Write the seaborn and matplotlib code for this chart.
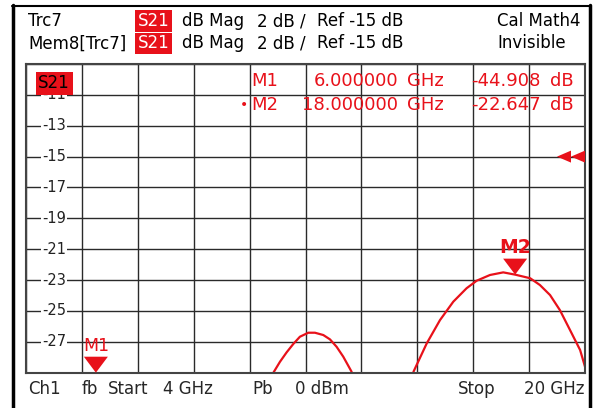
import numpy as np
import pandas as pd
import matplotlib
matplotlib.use("Agg")
import matplotlib.pyplot as plt
import seaborn as sns
from matplotlib.patches import Rectangle, Polygon
from matplotlib.lines import Line2D

# ---- data ----
lobe1_freq = [11.08, 11.27, 11.46, 11.65, 11.84, 12.08, 12.27, 12.51, 12.70, 12.89, 13.08, 13.32]
lobe1_db = [-29.0, -28.29, -27.68, -27.14, -26.67, -26.41, -26.41, -26.56, -26.84, -27.32, -27.96, -28.94]
lobe2_freq = [15.09, 15.47, 15.85, 16.23, 16.61, 16.90, 17.28, 17.66, 18.00, 18.43, 18.71,
              19.00, 19.28, 19.57, 19.86, 20.00]
lobe2_db = [-28.94, -27.10, -25.59, -24.40, -23.53, -23.04, -22.67, -22.50, -22.647, -22.88, -23.32,
            -23.97, -24.94, -26.23, -27.53, -28.61]
ytick_values = [-11, -13, -15, -17, -19, -21, -23, -25, -27]
marker_names = ["M1", "M2"]
marker_freq = [6.0, 18.0]
marker_db = [-44.908, -22.647]
start_ghz, stop_ghz = 4, 20
ref_db, scale_db = -15, 2

W, H = 594, 408
RED = "#e8111a"

sns.set_theme(style="white")
plt.rcParams["font.family"] = ["DejaVu Sans"]

fig = plt.figure(figsize=(W / 100, H / 100), dpi=100)
fig.patch.set_facecolor("white")

def fx(x):
    return x / W

def fy(y):
    return 1 - y / H

ax_l, ax_r, ax_t, ax_b = 26, 585, 64, 372.7
ax = fig.add_axes([fx(ax_l), fy(ax_b), fx(ax_r - ax_l), (ax_b - ax_t) / H])

df = pd.concat([
    pd.DataFrame({"f": lobe1_freq, "db": lobe1_db, "seg": "a"}),
    pd.DataFrame({"f": lobe2_freq, "db": lobe2_db, "seg": "b"}),
])
for seg, sub in df.groupby("seg"):
    sns.lineplot(data=sub, x="f", y="db", ax=ax, color=RED, lw=1.6, sort=False, legend=False)

ymax = ref_db + 3 * scale_db
ymin = ref_db - 7 * scale_db
ax.set_xlim(start_ghz, stop_ghz)
ax.set_ylim(ymin, ymax)
ax.set_xticks(np.linspace(start_ghz, stop_ghz, 11))
ax.set_yticks(np.arange(ymin, ymax + 0.1, scale_db))
ax.set_xticklabels([])
ax.set_yticklabels([])
ax.tick_params(length=0)
ax.set_xlabel("")
ax.set_ylabel("")
ax.grid(True, color="#2a2a2a", lw=1.0)
for s in ax.spines.values():
    s.set_color("#444444")
    s.set_linewidth(1.5)

# y labels inside the grid
for v in ytick_values:
    ax.text(0.0285, (v - ymin) / (ymax - ymin), "%d" % v, transform=ax.transAxes,
            ha="left", va="center", fontsize=10.5, color="#222222",
            bbox=dict(facecolor="white", edgecolor="none", pad=0.6))

# S21 box in the plot (drawn over the -11 label, as on the instrument)
ax.text(0.022, 0.938, "S21", transform=ax.transAxes, ha="left", va="center",
        fontsize=12, color="black", zorder=10,
        bbox=dict(facecolor=RED, edgecolor="none", pad=1.8))

# marker readout
rd_fs = 13
readout_y = [80.5, 105.5]
for i, (name, f, d) in enumerate(zip(marker_names, marker_freq, marker_db)):
    y = readout_y[i]
    fig.text(fx(251), fy(y), name, ha="left", va="center", fontsize=rd_fs, color=RED)
    fig.text(fx(398), fy(y), "%.6f" % f, ha="right", va="center", fontsize=rd_fs, color=RED)
    fig.text(fx(407), fy(y), "GHz", ha="left", va="center", fontsize=rd_fs, color=RED)
    fig.text(fx(541), fy(y), "%.3f" % d, ha="right", va="center", fontsize=rd_fs, color=RED)
    fig.text(fx(550), fy(y), "dB", ha="left", va="center", fontsize=rd_fs, color=RED)
fig.text(fx(240), fy(105.5), "•", ha="left", va="center", fontsize=10, color=RED)

# marker triangles
yr = ymax - ymin
for name, f, d in zip(marker_names, marker_freq, marker_db):
    tip_y = max(d, ymin)
    tri_h = 16 / 308.7 * yr
    half_w = 12 / 559 * (stop_ghz - start_ghz)
    tri = Polygon([[f - half_w, tip_y + tri_h], [f + half_w, tip_y + tri_h], [f, tip_y]],
                  closed=True, facecolor=RED, edgecolor="none", clip_on=False, zorder=5)
    ax.add_patch(tri)
    bold = name == "M2"
    ax.text(f, tip_y + tri_h + 0.1, name, ha="center", va="bottom",
            fontsize=13.5 if bold else 12.5,
            color=RED, fontweight="bold" if bold else "normal", zorder=5)

# reference level arrows at right
dx = 14 / 559 * (stop_ghz - start_ghz)
dy = 6 / 308.7 * yr
for x0 in [stop_ghz - 2 * dx, stop_ghz - dx]:
    ax.add_patch(Polygon([[x0, ref_db], [x0 + dx, ref_db + dy], [x0 + dx, ref_db - dy]],
                         closed=True, facecolor=RED, edgecolor="none", zorder=5))

# header
hdr_fs = 12
lines_y = [21.5, 43.5]
left_txt = ["Trc7", "Mem8[Trc7]"]
right_txt = ["Cal Math4", "Invisible"]
box_y = [(10, 32), (33, 54)]
for i, y in enumerate(lines_y):
    fig.text(fx(28), fy(y), left_txt[i], ha="left", va="center", fontsize=hdr_fs, color="black")
    y0, y1 = box_y[i]
    fig.patches.append(Rectangle((fx(135), fy(y1)), fx(37), (y1 - y0) / H,
                                 transform=fig.transFigure, facecolor=RED, edgecolor="none"))
    fig.text(fx(153.5), fy(y), "S21", ha="center", va="center", fontsize=hdr_fs, color="white")
    fig.text(fx(182), fy(y), "dB Mag", ha="left", va="center", fontsize=hdr_fs, color="black")
    fig.text(fx(257), fy(y), "%d dB /" % scale_db, ha="left", va="center", fontsize=hdr_fs, color="black")
    fig.text(fx(317), fy(y), "Ref %d dB" % ref_db, ha="left", va="center", fontsize=hdr_fs, color="black")
    fig.text(fx(497), fy(y), right_txt[i], ha="left", va="center", fontsize=hdr_fs, color="black")

# footer
fy_ft = 389
fig.text(fx(28), fy(fy_ft), "Ch1", ha="left", va="center", fontsize=hdr_fs)
fig.text(fx(82), fy(fy_ft), "fb", ha="left", va="center", fontsize=hdr_fs)
fig.text(fx(108), fy(fy_ft), "Start", ha="left", va="center", fontsize=hdr_fs)
fig.text(fx(163), fy(fy_ft), "%d GHz" % start_ghz, ha="left", va="center", fontsize=hdr_fs)
fig.text(fx(252), fy(fy_ft), "Pb", ha="left", va="center", fontsize=hdr_fs)
fig.text(fx(295), fy(fy_ft), "0 dBm", ha="left", va="center", fontsize=hdr_fs)
fig.text(fx(458), fy(fy_ft), "Stop", ha="left", va="center", fontsize=hdr_fs)
fig.text(fx(585), fy(fy_ft), "%d GHz" % stop_ghz, ha="right", va="center", fontsize=hdr_fs)

# outer frame
fig.lines.append(Line2D([fx(12.5), fx(12.5)], [fy(5), fy(410)], transform=fig.transFigure, color="black", lw=2.5))
fig.lines.append(Line2D([fx(11.5), fx(590)], [fy(5.5), fy(5.5)], transform=fig.transFigure, color="black", lw=1.5))
fig.lines.append(Line2D([fx(590), fx(590)], [fy(5), fy(410)], transform=fig.transFigure, color="black", lw=2.5))

fig.savefig("out.png", dpi=100, facecolor="white")
